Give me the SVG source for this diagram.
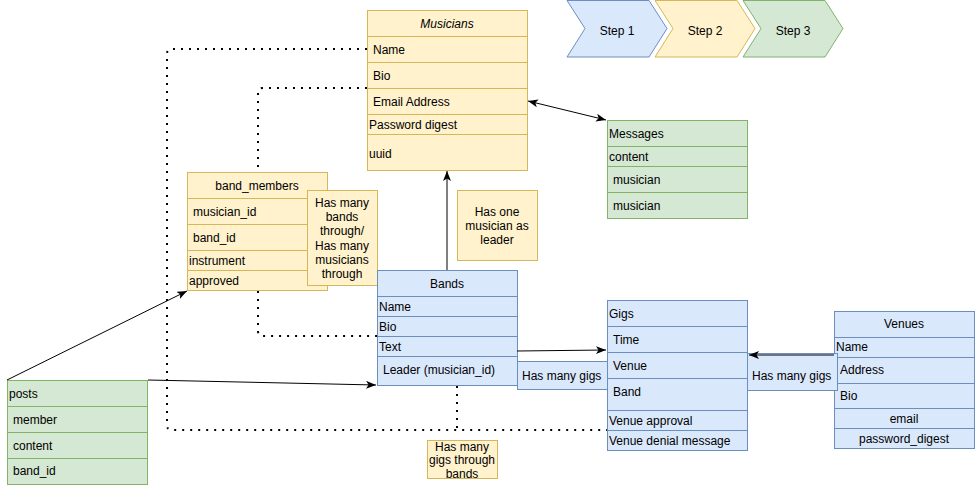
<svg xmlns="http://www.w3.org/2000/svg" width="975" height="488" viewBox="0 0 975 488">
<defs>
<style>
text{font-family:"Liberation Sans",Arial,sans-serif;font-size:12px;fill:#000}
.c{text-anchor:middle}
.y{fill:#fff2cc;stroke:#d6b656;stroke-width:1}
.b{fill:#dae8fc;stroke:#6c8ebf;stroke-width:1}
.g{fill:#d5e8d4;stroke:#82b366;stroke-width:1}
.ln{fill:none;stroke:#000;stroke-width:1}
.dot{fill:none;stroke:#000;stroke-width:2;stroke-dasharray:2 6}
</style>
<marker id="arr" markerUnits="userSpaceOnUse" markerWidth="12" markerHeight="10" refX="10" refY="4" orient="auto">
<path d="M0,0 L10,4 L0,8 L2.5,4 z" fill="#000"/>
</marker>
<marker id="arrs" markerUnits="userSpaceOnUse" markerWidth="12" markerHeight="10" refX="0" refY="4" orient="auto">
<path d="M10,0 L0,4 L10,8 L7.5,4 z" fill="#000"/>
</marker>
</defs>
<rect width="975" height="488" fill="#fff"/>

<g id="steps">
<g id="step1">
<path d="M567,0.5 H649 L667,28.5 L649,57 H567 L585,28.5 Z" class="b"/>
<text x="617" y="35" class="c">Step 1</text>
</g>
<g id="step2">
<path d="M655,0.5 H737 L755,28.5 L737,57 H655 L673,28.5 Z" class="y"/>
<text x="705" y="35" class="c">Step 2</text>
</g>
<g id="step3">
<path d="M743,0.5 H825 L843,28.5 L825,57 H743 L761,28.5 Z" class="g"/>
<text x="793" y="35" class="c">Step 3</text>
</g>
</g>

<g id="musicians">
<rect x="367.5" y="10.5" width="160" height="160" class="y"/>
<line x1="367.5" y1="36.5" x2="527.5" y2="36.5" stroke="#d6b656"/>
<line x1="367.5" y1="62.5" x2="527.5" y2="62.5" stroke="#d6b656"/>
<line x1="367.5" y1="88.5" x2="527.5" y2="88.5" stroke="#d6b656"/>
<line x1="367.5" y1="114.5" x2="527.5" y2="114.5" stroke="#d6b656"/>
<line x1="367.5" y1="134.5" x2="527.5" y2="134.5" stroke="#d6b656"/>
<text x="447" y="28" class="c" font-style="italic">Musicians</text>
<text x="373" y="54">Name</text>
<text x="373" y="80">Bio</text>
<text x="373" y="106">Email Address</text>
<text x="369" y="129">Password digest</text>
<text x="369" y="158">uuid</text>
</g>

<g id="messages">
<rect x="607.5" y="120.5" width="140" height="98" class="g"/>
<line x1="607.5" y1="146.5" x2="747.5" y2="146.5" stroke="#82b366"/>
<line x1="607.5" y1="166.5" x2="747.5" y2="166.5" stroke="#82b366"/>
<line x1="607.5" y1="192.5" x2="747.5" y2="192.5" stroke="#82b366"/>
<text x="609" y="138">Messages</text>
<text x="609" y="161">content</text>
<text x="613" y="184">musician</text>
<text x="613" y="210">musician</text>
</g>

<g id="band_members">
<rect x="187.5" y="172.5" width="140" height="118" class="y"/>
<line x1="187.5" y1="198.5" x2="327.5" y2="198.5" stroke="#d6b656"/>
<line x1="187.5" y1="224.5" x2="327.5" y2="224.5" stroke="#d6b656"/>
<line x1="187.5" y1="250.5" x2="327.5" y2="250.5" stroke="#d6b656"/>
<line x1="187.5" y1="270.5" x2="327.5" y2="270.5" stroke="#d6b656"/>
<text x="257" y="190" class="c">band_members</text>
<text x="193" y="216">musician_id</text>
<text x="193" y="242">band_id</text>
<text x="189" y="265">instrument</text>
<text x="189" y="285">approved</text>
</g>

<g id="note_bands_through">
<rect x="307.5" y="190.5" width="70" height="95" class="y"/>
<text x="342" y="207" class="c">Has many</text>
<text x="342" y="221" class="c">bands</text>
<text x="342" y="235" class="c">through/</text>
<text x="342" y="250" class="c">Has many</text>
<text x="342" y="264" class="c">musicians</text>
<text x="342" y="278" class="c">through</text>
</g>

<g id="note_leader">
<rect x="457.5" y="190.5" width="80" height="70" class="y"/>
<text x="497" y="216" class="c">Has one</text>
<text x="497" y="230" class="c">musician as</text>
<text x="497" y="244" class="c">leader</text>
</g>

<g id="bands">
<rect x="377.5" y="270.5" width="140" height="115" class="b"/>
<line x1="377.5" y1="296.5" x2="517.5" y2="296.5" stroke="#6c8ebf"/>
<line x1="377.5" y1="316.5" x2="517.5" y2="316.5" stroke="#6c8ebf"/>
<line x1="377.5" y1="336.5" x2="517.5" y2="336.5" stroke="#6c8ebf"/>
<line x1="377.5" y1="356.5" x2="517.5" y2="356.5" stroke="#6c8ebf"/>
<text x="447" y="288" class="c">Bands</text>
<text x="379" y="311">Name</text>
<text x="379" y="331">Bio</text>
<text x="379" y="351">Text</text>
<text x="383" y="374">Leader (musician_id)</text>
</g>

<g id="label_bands_gigs">
<rect x="517.5" y="361.5" width="90" height="28" class="b"/>
<text x="522" y="380">Has many gigs</text>
</g>

<g id="gigs">
<rect x="607.5" y="300.5" width="140" height="150" class="b"/>
<line x1="607.5" y1="326.5" x2="747.5" y2="326.5" stroke="#6c8ebf"/>
<line x1="607.5" y1="352.5" x2="747.5" y2="352.5" stroke="#6c8ebf"/>
<line x1="607.5" y1="378.5" x2="747.5" y2="378.5" stroke="#6c8ebf"/>
<line x1="607.5" y1="410.5" x2="747.5" y2="410.5" stroke="#6c8ebf"/>
<line x1="607.5" y1="430.5" x2="747.5" y2="430.5" stroke="#6c8ebf"/>
<text x="609" y="318">Gigs</text>
<text x="613" y="344">Time</text>
<text x="613" y="370">Venue</text>
<text x="613" y="396">Band</text>
<text x="609" y="425">Venue approval</text>
<text x="609" y="445">Venue denial message</text>
</g>

<g id="venues">
<rect x="834.5" y="311.5" width="140" height="137" class="b"/>
<line x1="834.5" y1="337.5" x2="974.5" y2="337.5" stroke="#6c8ebf"/>
<line x1="834.5" y1="357.5" x2="974.5" y2="357.5" stroke="#6c8ebf"/>
<line x1="834.5" y1="383.5" x2="974.5" y2="383.5" stroke="#6c8ebf"/>
<line x1="834.5" y1="408.5" x2="974.5" y2="408.5" stroke="#6c8ebf"/>
<line x1="834.5" y1="428.5" x2="974.5" y2="428.5" stroke="#6c8ebf"/>
<text x="904" y="328" class="c">Venues</text>
<text x="836" y="351">Name</text>
<text x="840" y="374">Address</text>
<text x="840" y="400">Bio</text>
<text x="904" y="423" class="c">email</text>
<text x="904" y="443" class="c">password_digest</text>
</g>

<g id="label_venues_gigs">
<rect x="747.5" y="353.5" width="90" height="37" class="b"/>
<text x="752" y="380">Has many gigs</text>
</g>

<g id="posts">
<rect x="7.5" y="380.5" width="140" height="104" class="g"/>
<line x1="7.5" y1="406.5" x2="147.5" y2="406.5" stroke="#82b366"/>
<line x1="7.5" y1="432.5" x2="147.5" y2="432.5" stroke="#82b366"/>
<line x1="7.5" y1="458.5" x2="147.5" y2="458.5" stroke="#82b366"/>
<text x="9" y="398">posts</text>
<text x="13" y="424">member</text>
<text x="13" y="450">content</text>
<text x="13" y="475">band_id</text>
</g>

<g id="note_gigs_through">
<rect x="427.5" y="440.5" width="70" height="38" class="y"/>
<text x="462" y="451" class="c">Has many</text>
<text x="462" y="464" class="c">gigs through</text>
<text x="462" y="478" class="c">bands</text>
</g>

<g id="connectors">
<path class="dot" d="M367,49 H172 Q167,49 167,54 V425 Q167,430 172,430 H607"/>
<path class="dot" d="M367,88 H263 Q258,88 258,93 V172"/>
<path class="dot" d="M258,291 V331 Q258,336 263,336 H377"/>
<path class="dot" d="M457,386 V430"/>
<line class="ln" x1="447" y1="270" x2="447" y2="171" marker-end="url(#arr)"/>
<line class="ln" x1="528" y1="101" x2="606" y2="120" marker-start="url(#arrs)" marker-end="url(#arr)"/>
<line class="ln" x1="517" y1="351" x2="606" y2="350" marker-end="url(#arr)"/>
<line class="ln" x1="834" y1="355" x2="749" y2="355" marker-end="url(#arr)"/>
<line class="ln" x1="7" y1="380" x2="187" y2="291" marker-end="url(#arr)"/>
<line class="ln" x1="148" y1="380" x2="376" y2="385" marker-end="url(#arr)"/>
</g>
</svg>
